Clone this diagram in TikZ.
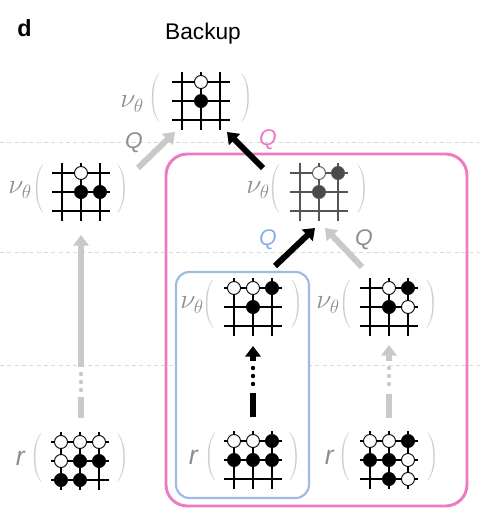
\documentclass[tikz,border=0pt]{standalone}
\usepackage{fontspec}
\setmainfont{Liberation Sans}
\usetikzlibrary{arrows.meta,calc}

\definecolor{boxpink}{RGB}{238,122,192}
\definecolor{boxblue}{RGB}{160,186,230}
\definecolor{qblue}{RGB}{140,174,230}
\definecolor{arrowgray}{RGB}{201,201,201}
\definecolor{labelgray}{RGB}{142,142,142}
\definecolor{parengray}{RGB}{205,205,205}
\definecolor{guidegray}{RGB}{217,217,217}
\definecolor{boardgray}{RGB}{85,85,85}
\definecolor{stonegray}{RGB}{74,74,74}

% 3x3 go board: centre, line colour, stones as col/row/fill
\newcommand{\goboard}[3]{%
  \foreach \k in {-19,0,19} {
    \draw[gridline,#2] ($(#1)+(\k,-29)$) -- ($(#1)+(\k,29)$);
    \draw[gridline,#2] ($(#1)+(-29,\k)$) -- ($(#1)+(29,\k)$);
  }
  \foreach \i/\j/\f in {#3}
    \filldraw[stoneline,draw=#2,fill=\f] ($(#1)+(19*\i,19*\j)$) circle (6.5);
}

\begin{document}
\begin{tikzpicture}[x=0.75pt,y=-0.75pt,
  gridline/.style={line width=0.9pt},
  stoneline/.style={line width=0.7pt},
  guide/.style={guidegray,line width=0.7pt,dash pattern=on 3pt off 2.5pt},
  pinkframe/.style={boxpink,line width=2.2pt,rounded corners=16pt},
  blueframe/.style={boxblue,line width=1.6pt,rounded corners=10pt,fill=white},
  nu/.style={text=labelgray,anchor=east,inner sep=0pt,font=\fontsize{20.74}{25}\selectfont},
  paren/.style={text=parengray,inner sep=0pt},
  rlabel/.style={text=labelgray,anchor=east,inner sep=0pt,font=\fontsize{20}{24}\selectfont\itshape},
  qlabel/.style={inner sep=0pt,font=\fontsize{17}{20}\selectfont\itshape},
  fat/.style={line width=4.5pt,-{Triangle[width=11.5pt,length=8pt]}},
  bar/.style={line width=4.5pt},
  dot/.style={radius=2.2}]
  \useasboundingbox (0,0) rectangle (493,526);

  % Board centres
  \coordinate (top)  at (201,101);
  \coordinate (midL) at (81,192);
  \coordinate (midP) at (319,192);
  \coordinate (midB) at (253,307);
  \coordinate (midR) at (389,307);
  \coordinate (botL) at (80,461);
  \coordinate (botB) at (253,460);
  \coordinate (botR) at (389,460);

  % Depth guides
  \foreach \y in {142,252,365}
    \draw[guide] (0,\y) -- (480,\y);

  % Backup frames
  \draw[pinkframe] (166,154) rectangle (467,506);
  \draw[blueframe] (176,272) rectangle (309,498);

  % Heading
  \node[font=\bfseries\fontsize{17.5}{20}\selectfont,anchor=base west,inner sep=0pt] (panel) at (17,36) {d};
  \node[font=\fontsize{17}{20}\selectfont,anchor=base,inner sep=0pt] (title) at (203,39) {Backup};

  % Boards
  \goboard{top}{black}{0/-1/white,0/0/black}
  \goboard{midL}{black}{0/-1/white,0/0/black,1/0/black}
  \goboard{midP}{boardgray}{0/-1/white,1/-1/stonegray,0/0/stonegray}
  \goboard{midB}{black}{-1/-1/white,0/-1/white,1/-1/black,0/0/black}
  \goboard{midR}{black}{0/-1/white,1/-1/black,0/0/black,1/0/white}
  \goboard{botL}{black}{-1/-1/white,0/-1/white,1/-1/white,-1/0/white,0/0/black,1/0/black,-1/1/black,0/1/black}
  \goboard{botB}{black}{-1/-1/white,0/-1/white,1/-1/black,-1/0/black,0/0/black,1/0/black}
  \goboard{botR}{black}{-1/-1/white,0/-1/white,1/-1/black,-1/0/black,0/0/black,1/0/white,0/1/black,1/1/white}

  % Brackets and function names
  \foreach \b/\d in {top/-46,midL/-42,midP/-44,midB/-44,midR/-43,botL/-43,botB/-42,botR/-44} {
    \node[paren] (\b-l) at ($(\b)+(\d,-3)$) {$\left(\vcenter{\hrule height 37pt width 0pt}\right.$};
    \node[paren] (\b-r) at ($(\b)+(-\d,-3)$) {$\left.\vcenter{\hrule height 37pt width 0pt}\right)$};
  }
  \node[nu] (top-nu) at ($(top)+(-57,3)$) {$\nu_\theta$};
  \foreach \b in {midL,midP,midB,midR}
    \node[nu] (\b-nu) at ($(\b)+(-49,-2)$) {$\nu_\theta$};
  \foreach \b in {botL,botB,botR}
    \node[rlabel] (\b-rr) at ($(\b)+(-55,-3)$) {r};

  % Rollout chains
  \coordinate (lBar0) at (81,418);  \coordinate (lBar1) at (81,397);
  \coordinate (lUp0)  at (81,367);  \coordinate (lUp1)  at (81,235);
  \draw[bar,arrowgray] (lBar0) -- (lBar1);
  \foreach \y in {374,382,390} \fill[arrowgray,dot] (81,\y) circle;
  \draw[fat,arrowgray] (lUp0) -- (lUp1);

  \coordinate (bBar0) at (253,417); \coordinate (bBar1) at (253,393);
  \coordinate (bUp0)  at (253,361); \coordinate (bUp1)  at (253,346);
  \draw[bar,black] (bBar0) -- (bBar1);
  \foreach \y in {368,376,384} \fill[black,dot] (253,\y) circle;
  \draw[fat,black] (bUp0) -- (bUp1);

  \coordinate (rBar0) at (389,418); \coordinate (rBar1) at (389,394);
  \coordinate (rUp0)  at (389,361); \coordinate (rUp1)  at (389,345);
  \draw[bar,arrowgray] (rBar0) -- (rBar1);
  \foreach \y in {368,376,384} \fill[arrowgray,dot] (389,\y) circle;
  \draw[fat,arrowgray] (rUp0) -- (rUp1);

  % Backup arrows
  \coordinate (gTop0) at (138,168); \coordinate (gTop1) at (175,132);
  \coordinate (kTop0) at (263,168); \coordinate (kTop1) at (227,132);
  \coordinate (kMid0) at (275,266); \coordinate (kMid1) at (315,228);
  \coordinate (gMid0) at (362,267); \coordinate (gMid1) at (325,228);
  \draw[fat,arrowgray] (gTop0) -- (gTop1);
  \draw[fat,black] (kTop0) -- (kTop1);
  \draw[fat,black] (kMid0) -- (kMid1);
  \draw[fat,arrowgray] (gMid0) -- (gMid1);

  % Q values
  \node[qlabel,text=labelgray] (qL) at (134,143) {Q};
  \node[qlabel,text=boxpink] (qP) at (268,140) {Q};
  \node[qlabel,text=qblue] (qB) at (268,240) {Q};
  \node[qlabel,text=labelgray] (qR) at (364,240) {Q};
\end{tikzpicture}
\end{document}
